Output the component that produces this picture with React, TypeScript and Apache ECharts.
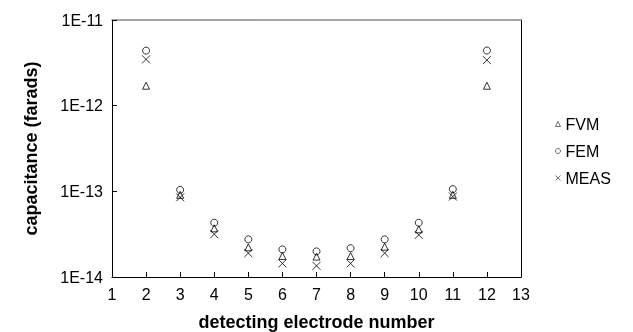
import React, { useEffect, useRef } from "react";
import * as echarts from "echarts";

const electrodes = [2, 3, 4, 5, 6, 7, 8, 9, 10, 11, 12];
const fvm = [1.71e-12, 9.1e-14, 3.7e-14, 2.22e-14, 1.76e-14, 1.73e-14, 1.76e-14, 2.26e-14, 3.6e-14, 9.1e-14, 1.71e-12];
const fem = [4.39e-12, 1.04e-13, 4.3e-14, 2.75e-14, 2.1e-14, 1.99e-14, 2.17e-14, 2.75e-14, 4.3e-14, 1.06e-13, 4.4e-12];
const meas = [3.47e-12, 8.5e-14, 3.16e-14, 1.9e-14, 1.44e-14, 1.35e-14, 1.44e-14, 1.9e-14, 3.1e-14, 8.7e-14, 3.4e-12];
const yTickLabels: Record<string, string> = {
  "1e-11": "1E-11",
  "1e-12": "1E-12",
  "1e-13": "1E-13",
  "1e-14": "1E-14",
};

const FONT = "Liberation Sans, Arial, sans-serif";
const X_PATH = "path://M0,0L10,10M10,0L0,10";

export default function App() {
  const ref = useRef<HTMLDivElement>(null);
  useEffect(() => {
    if (!ref.current) return;
    const chart = echarts.init(ref.current, null, { renderer: "svg" });
    const pair = (arr: number[]) => electrodes.map((x, i) => [x, arr[i]]);
    const fmtY = (v: number) => {
      const e = Math.round(Math.log10(v));
      return yTickLabels[`1e${e}`] ?? `1E${e}`;
    };
    chart.setOption({
      animation: false,
      grid: { left: 112, right: 112, top: 20, bottom: 55, outerBoundsMode: "none", containLabel: false },
      legend: {
        orient: "vertical",
        left: 553,
        top: 116,
        padding: 0,
        itemWidth: 5,
        itemHeight: 5,
        itemGap: 11,
        itemStyle: { color: "none", borderColor: "#000", borderWidth: 0.7 },
        textStyle: { fontFamily: FONT, fontSize: 16, color: "#000" },
        data: ["FVM", "FEM", "MEAS"],
      },
      xAxis: [
        {
          type: "value",
          min: 1,
          max: 13,
          interval: 1,
          name: "detecting electrode number",
          nameLocation: "middle",
          nameGap: 36,
          nameTextStyle: { fontFamily: FONT, fontSize: 18, fontWeight: "bold", color: "#000" },
          axisLine: { lineStyle: { color: "#000", width: 1 } },
          axisTick: { inside: true, length: 5, lineStyle: { color: "#000" } },
          axisLabel: { fontFamily: FONT, fontSize: 16, color: "#000", margin: 9 },
          splitLine: { show: false },
        },
        {
          type: "value",
          position: "top",
          min: 1,
          max: 13,
          interval: 1,
          axisLine: { show: true, lineStyle: { color: "#888", width: 1.5 } },
          axisTick: { show: false },
          axisLabel: { show: false },
          splitLine: { show: false },
        },
      ],
      yAxis: [
        {
          type: "log",
          logBase: 10,
          min: 1e-14,
          max: 1e-11,
          name: "capacitance (farads)",
          nameLocation: "middle",
          nameGap: 72,
          nameTextStyle: { fontFamily: FONT, fontSize: 18, fontWeight: "bold", color: "#000" },
          axisLine: { show: true, lineStyle: { color: "#000", width: 1 } },
          axisTick: { inside: true, length: 5, lineStyle: { color: "#000" } },
          axisLabel: { fontFamily: FONT, fontSize: 16, color: "#000", margin: 9, formatter: fmtY },
          splitLine: { show: false },
          minorTick: { show: false },
        },
        {
          type: "log",
          logBase: 10,
          position: "right",
          min: 1e-14,
          max: 1e-11,
          axisLine: { show: true, lineStyle: { color: "#000", width: 1 } },
          axisTick: { show: false },
          axisLabel: { show: false },
          splitLine: { show: false },
        },
      ],
      series: [
        {
          name: "FVM",
          type: "scatter",
          symbol: "triangle",
          symbolSize: 7,
          data: pair(fvm),
          itemStyle: { color: "none", borderColor: "#000", borderWidth: 1 },
        },
        {
          name: "FEM",
          type: "scatter",
          symbol: "circle",
          symbolSize: 7,
          data: pair(fem),
          itemStyle: { color: "none", borderColor: "#000", borderWidth: 1 },
        },
        {
          name: "MEAS",
          type: "scatter",
          symbol: X_PATH,
          symbolSize: 8,
          data: pair(meas),
          itemStyle: { color: "none", borderColor: "#000", borderWidth: 1 },
        },
      ],
    });
    return () => chart.dispose();
  }, []);
  return (
    <div
      ref={ref}
      style={{ position: "fixed", left: 0, top: 0, width: 633, height: 332 }}
    />
  );
}
